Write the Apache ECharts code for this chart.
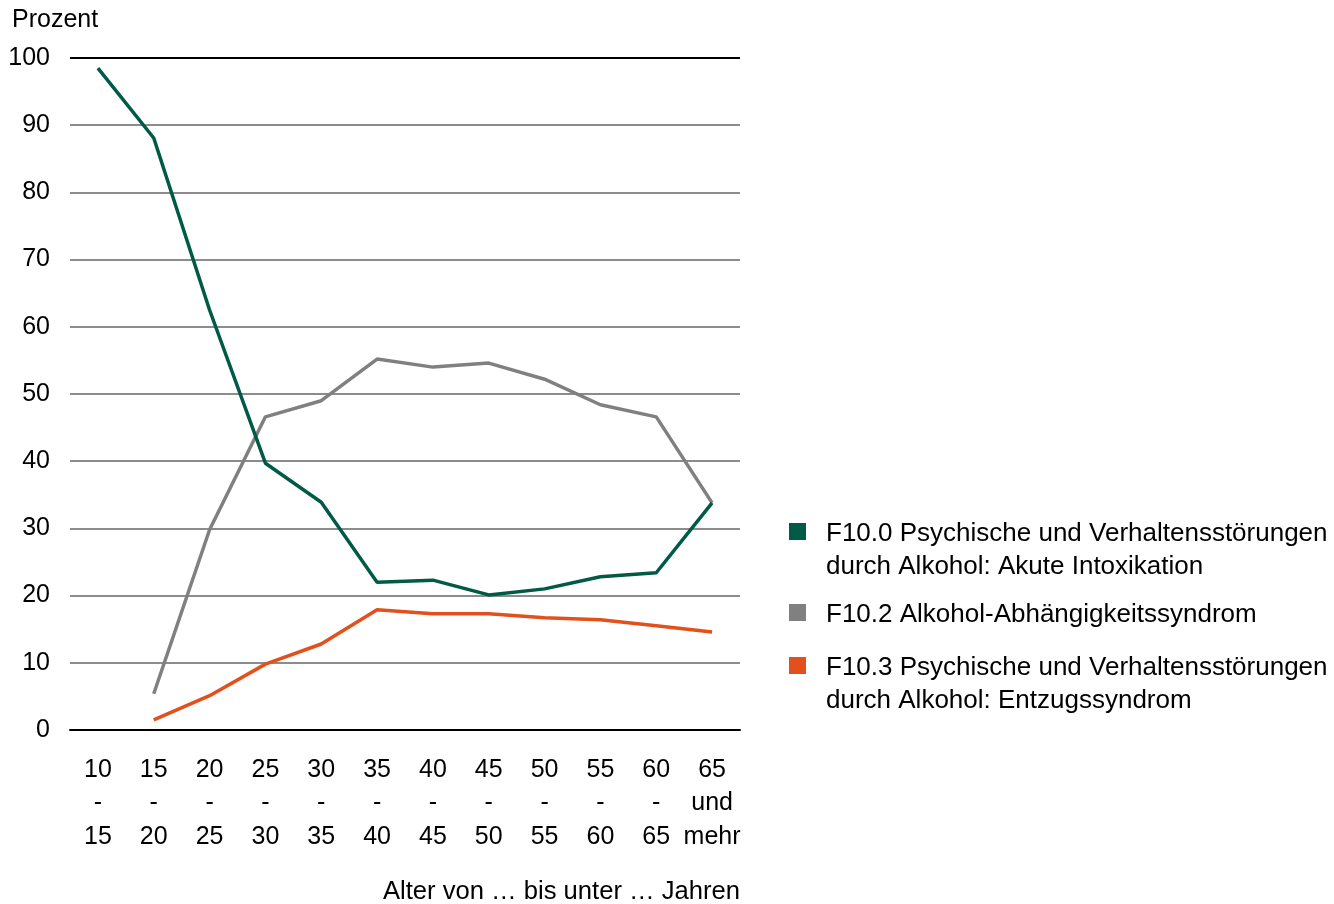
<!DOCTYPE html>
<html>
<head>
<meta charset="utf-8">
<script src="https://cdn.jsdelivr.net/npm/echarts@6/dist/echarts.min.js"></script>
<style>
html,body{margin:0;padding:0;background:#fff;}
#chart{width:1334px;height:904px;}
</style>
</head>
<body>
<div id="chart"></div>
<script>
const categories = ['10\n-\n15','15\n-\n20','20\n-\n25','25\n-\n30','30\n-\n35','35\n-\n40','40\n-\n45','45\n-\n50','50\n-\n55','55\n-\n60','60\n-\n65','65\nund\nmehr'];
const seriesNames = [
  'F10.0 Psychische und Verhaltensstörungen\ndurch Alkohol: Akute Intoxikation',
  'F10.2 Alkohol-Abhängigkeitssyndrom',
  'F10.3 Psychische und Verhaltensstörungen\ndurch Alkohol: Entzugssyndrom'
];
const seriesColors = ['#005a46', '#808080', '#e2501b'];
const f100 = [98.5, 88.1, 62.5, 39.7, 33.9, 22.0, 22.3, 20.1, 21.0, 22.8, 23.4, 33.8];
const f102 = [null, 5.4, 29.8, 46.6, 49.0, 55.2, 54.0, 54.6, 52.2, 48.4, 46.6, 33.8];
const f103 = [null, 1.5, 5.1, 9.8, 12.8, 17.9, 17.3, 17.3, 16.7, 16.4, 15.5, 14.6];
const yTicks = [0, 10, 20, 30, 40, 50, 60, 70, 80, 90, 100];
const values = [f100, f102, f103];

const font = '"Liberation Sans", Arial, sans-serif';
const fs = 25;
const chart = echarts.init(document.getElementById('chart'));

// legend drawn as graphic elements (first-line centres)
const legendCentres = [532, 613, 666];
const legendGraphics = [];
seriesNames.forEach((name, i) => {
  const cy = legendCentres[i];
  legendGraphics.push({
    type: 'rect', left: 789, top: cy - 9,
    shape: {width: 17, height: 17},
    style: {fill: seriesColors[i]}
  });
  legendGraphics.push({
    type: 'text', left: 826, top: cy - 15,
    style: {text: name, font: '26px ' + font, fill: '#000', lineHeight: 33.5}
  });
});

chart.setOption({
  animation: false,
  backgroundColor: '#fff',
  grid: {left: 70, right: 594, top: 58, bottom: 174, containLabel: false, outerBoundsMode: 'none'},
  xAxis: {
    type: 'category',
    data: categories,
    boundaryGap: true,
    name: 'Alter von … bis unter … Jahren',
    nameLocation: 'end',
    nameGap: 0,
    nameTextStyle: {
      fontFamily: font, fontSize: 25.6, color: '#000',
      align: 'right', verticalAlign: 'top', padding: [149, 0, 0, 0]
    },
    axisLine: {lineStyle: {color: '#000', width: 2}},
    axisTick: {show: false},
    axisLabel: {
      fontFamily: font, fontSize: fs, color: '#000', lineHeight: 33.5,
      margin: 23, interval: 0
    },
    splitLine: {show: false}
  },
  yAxis: {
    type: 'value',
    min: 0, max: 100, interval: 10,
    name: 'Prozent',
    nameLocation: 'end',
    nameGap: 25,
    nameTextStyle: {fontFamily: font, fontSize: fs, color: '#000', align: 'left', padding: [0, 0, 0, -58]},
    axisLine: {show: false},
    axisTick: {show: false},
    axisLabel: {
      fontFamily: font, fontSize: fs, color: '#000', margin: 20,
      padding: [5, 0, 0, 0],
      formatter: v => yTicks.includes(v) ? String(v) : ''
    },
    splitLine: {
      show: true,
      lineStyle: {
        color: ['#8c8c8c','#8c8c8c','#8c8c8c','#8c8c8c','#8c8c8c','#8c8c8c','#8c8c8c','#8c8c8c','#8c8c8c','#8c8c8c','#000'],
        width: 2
      }
    }
  },
  series: values.map((v, i) => ({
    type: 'line',
    name: seriesNames[i],
    data: v,
    showSymbol: false,
    symbol: 'none',
    connectNulls: false,
    lineStyle: {color: seriesColors[i], width: 3.5},
    itemStyle: {color: seriesColors[i]},
    z: 10 - i
  })),
  graphic: legendGraphics
});
</script>
</body>
</html>
